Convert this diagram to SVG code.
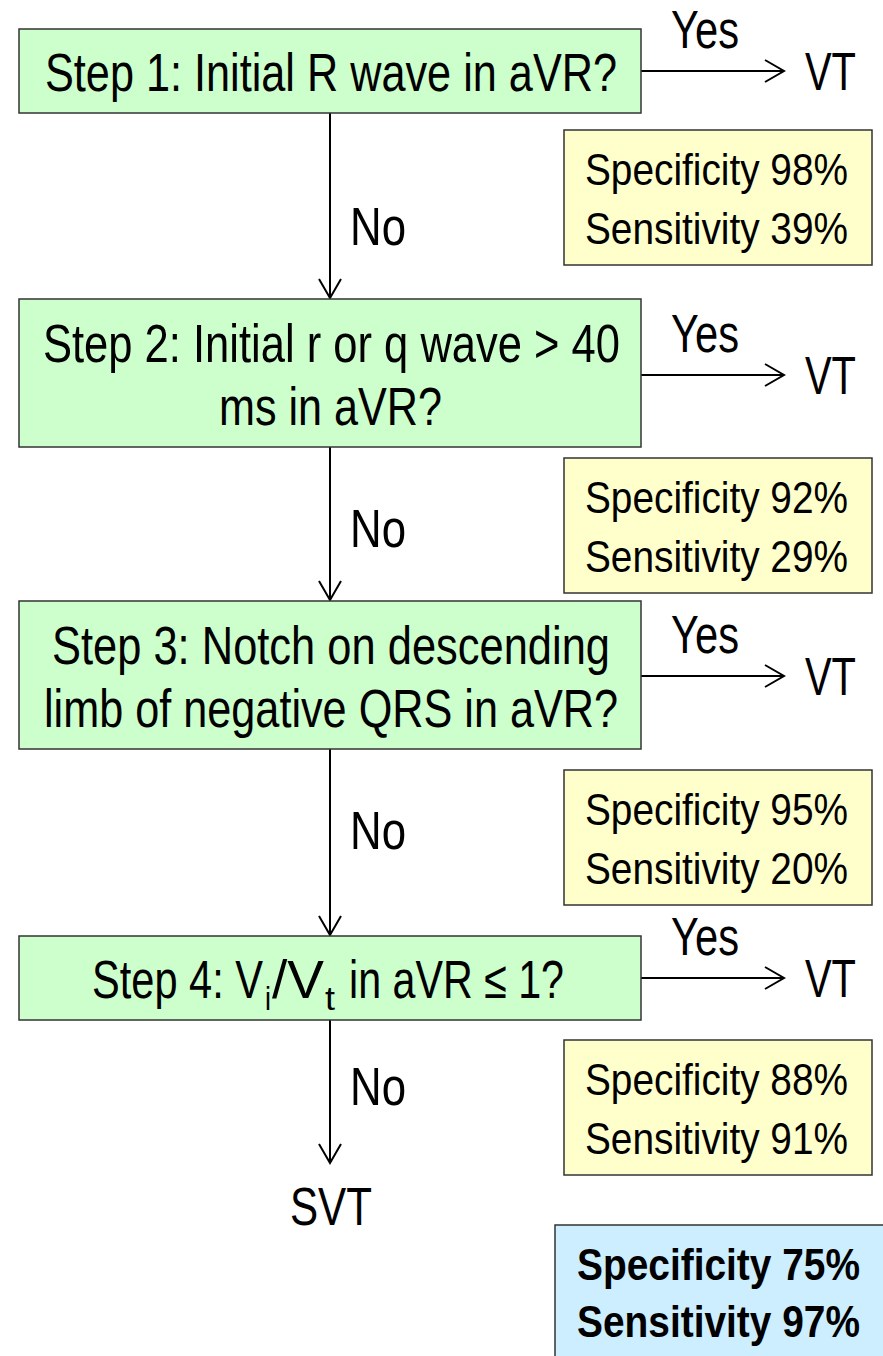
<svg xmlns="http://www.w3.org/2000/svg" width="883" height="1356" viewBox="0 0 883 1356">
  <style>
    .step { fill: #ccffcc; stroke: #333; stroke-width: 1.5; }
    .stat { fill: #ffffcc; stroke: #333; stroke-width: 1.5; }
    .total { fill: #cceeff; stroke: #333; stroke-width: 1.5; }
    text { font-family: "Liberation Sans", Arial, sans-serif; fill: #000; }
    .t { font-size: 53px; }
    .s { font-size: 45px; }
    .b { font-size: 45px; font-weight: bold; }
    .sub { font-size: 34px; }
    .edge { stroke: #000; stroke-width: 2; fill: none; marker-end: url(#arr); }
  </style>
  <defs>
    <marker id="arr" viewBox="0 0 22 24" refX="20" refY="12" markerWidth="22" markerHeight="24" markerUnits="userSpaceOnUse" orient="auto">
      <path d="M1 1 L20 12 L1 23" fill="none" stroke="#000" stroke-width="2"/>
    </marker>
  </defs>

  <g id="connectors">
    <line class="edge" x1="641" y1="71" x2="784" y2="71"/>
    <line class="edge" x1="641" y1="375" x2="784" y2="375"/>
    <line class="edge" x1="641" y1="676" x2="784" y2="676"/>
    <line class="edge" x1="641" y1="978" x2="784" y2="978"/>
    <line class="edge" x1="330" y1="113" x2="330" y2="298"/>
    <line class="edge" x1="330" y1="447" x2="330" y2="600"/>
    <line class="edge" x1="330" y1="749" x2="330" y2="935"/>
    <line class="edge" x1="330" y1="1020" x2="330" y2="1163"/>
    <text class="t" x="671" y="48" textLength="68" lengthAdjust="spacingAndGlyphs">Yes</text>
    <text class="t" x="671" y="352" textLength="68" lengthAdjust="spacingAndGlyphs">Yes</text>
    <text class="t" x="671" y="653" textLength="68" lengthAdjust="spacingAndGlyphs">Yes</text>
    <text class="t" x="671" y="955" textLength="68" lengthAdjust="spacingAndGlyphs">Yes</text>
    <text class="t" x="350" y="245" textLength="56" lengthAdjust="spacingAndGlyphs">No</text>
    <text class="t" x="350" y="547" textLength="56" lengthAdjust="spacingAndGlyphs">No</text>
    <text class="t" x="350" y="849" textLength="56" lengthAdjust="spacingAndGlyphs">No</text>
    <text class="t" x="350" y="1105" textLength="56" lengthAdjust="spacingAndGlyphs">No</text>
  </g>

  <g id="step1">
    <rect class="step" x="19" y="29" width="622" height="84"/>
    <text class="t" x="45" y="91" textLength="572" lengthAdjust="spacingAndGlyphs">Step 1: Initial R wave in aVR?</text>
  </g>
  <g id="vt1"><text class="t" x="805" y="90" textLength="51" lengthAdjust="spacingAndGlyphs">VT</text></g>
  <g id="stats1">
    <rect class="stat" x="564" y="130" width="308" height="135"/>
    <text class="s" x="585" y="185" textLength="263" lengthAdjust="spacingAndGlyphs">Specificity 98%</text>
    <text class="s" x="585" y="244" textLength="263" lengthAdjust="spacingAndGlyphs">Sensitivity 39%</text>
  </g>

  <g id="step2">
    <rect class="step" x="19" y="299" width="622" height="148"/>
    <text class="t" x="43" y="362" textLength="577" lengthAdjust="spacingAndGlyphs">Step 2: Initial r or q wave &gt; 40</text>
    <text class="t" x="219" y="425" textLength="223" lengthAdjust="spacingAndGlyphs">ms in aVR?</text>
  </g>
  <g id="vt2"><text class="t" x="805" y="394" textLength="51" lengthAdjust="spacingAndGlyphs">VT</text></g>
  <g id="stats2">
    <rect class="stat" x="564" y="458" width="308" height="135"/>
    <text class="s" x="585" y="513" textLength="263" lengthAdjust="spacingAndGlyphs">Specificity 92%</text>
    <text class="s" x="585" y="572" textLength="263" lengthAdjust="spacingAndGlyphs">Sensitivity 29%</text>
  </g>

  <g id="step3">
    <rect class="step" x="19" y="601" width="622" height="148"/>
    <text class="t" x="52" y="664" textLength="558" lengthAdjust="spacingAndGlyphs">Step 3: Notch on descending</text>
    <text class="t" x="44" y="727" textLength="574" lengthAdjust="spacingAndGlyphs">limb of negative QRS in aVR?</text>
  </g>
  <g id="vt3"><text class="t" x="805" y="695" textLength="51" lengthAdjust="spacingAndGlyphs">VT</text></g>
  <g id="stats3">
    <rect class="stat" x="564" y="770" width="308" height="135"/>
    <text class="s" x="585" y="825" textLength="263" lengthAdjust="spacingAndGlyphs">Specificity 95%</text>
    <text class="s" x="585" y="884" textLength="263" lengthAdjust="spacingAndGlyphs">Sensitivity 20%</text>
  </g>

  <g id="step4">
    <rect class="step" x="19" y="936" width="622" height="84"/>
    <text class="t" x="92" y="998" textLength="171" lengthAdjust="spacingAndGlyphs">Step 4: V</text>
    <text class="sub" x="265" y="1010" textLength="6" lengthAdjust="spacingAndGlyphs">i</text>
    <text class="t" x="272" y="998" textLength="52" lengthAdjust="spacingAndGlyphs">/V</text>
    <text class="sub" x="325" y="1010" textLength="10" lengthAdjust="spacingAndGlyphs">t</text>
    <text class="t" x="349" y="998" textLength="215" lengthAdjust="spacingAndGlyphs">in aVR ≤ 1?</text>
  </g>
  <g id="vt4"><text class="t" x="805" y="997" textLength="51" lengthAdjust="spacingAndGlyphs">VT</text></g>
  <g id="stats4">
    <rect class="stat" x="564" y="1040" width="308" height="135"/>
    <text class="s" x="585" y="1095" textLength="263" lengthAdjust="spacingAndGlyphs">Specificity 88%</text>
    <text class="s" x="585" y="1154" textLength="263" lengthAdjust="spacingAndGlyphs">Sensitivity 91%</text>
  </g>

  <g id="svt"><text class="t" x="290" y="1225" textLength="82" lengthAdjust="spacingAndGlyphs">SVT</text></g>

  <g id="overall">
    <rect class="total" x="555" y="1225" width="340" height="140"/>
    <text class="b" x="577" y="1280" textLength="283" lengthAdjust="spacingAndGlyphs">Specificity 75%</text>
    <text class="b" x="577" y="1337" textLength="283" lengthAdjust="spacingAndGlyphs">Sensitivity 97%</text>
  </g>
</svg>
